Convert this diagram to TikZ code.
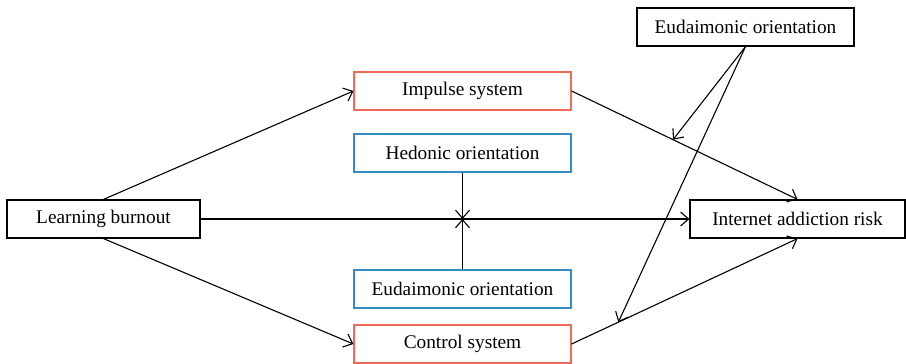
\documentclass[tikz,border=0pt]{standalone}
\usepackage{fontspec}
\setmainfont{Liberation Serif}
\usetikzlibrary{arrows.meta}
\definecolor{redb}{RGB}{240,106,90}
\definecolor{blueb}{RGB}{52,140,192}
\begin{document}
\begin{tikzpicture}[x=1pt,y=-1pt,
  box/.style={draw=black,line width=1.2pt,minimum width=217pt,minimum height=38pt,inner sep=0pt,font=\fontsize{19.3}{23}\selectfont},
  redbox/.style={box,draw=redb},
  bluebox/.style={box,draw=blueb},
  arr/.style={line width=1.1pt,-{Straight Barb[length=8pt,width=14pt,line width=1.1pt]}}]
\useasboundingbox (0,0) rectangle (906,364);
\node[box,minimum width=193pt] (lb) at (103.5,219) {Learning burnout};
\node[redbox] (imp) at (462.5,91) {Impulse system};
\node[bluebox] (hed) at (462.5,153) {Hedonic orientation};
\node[bluebox] (eul) at (462.5,289) {Eudaimonic orientation};
\node[redbox] (ctl) at (462.5,344) {Control system};
\node[box] (eut) at (745.5,27) {Eudaimonic orientation};
\node[box,minimum width=215pt] (iar) at (797.5,219) {Internet addiction risk};
\coordinate (mid) at (462.5,219);
\path (imp.east) -- (iar.north) coordinate[pos=0.449] (m1);
\path (ctl.east) -- (iar.south) coordinate[pos=0.207] (m2);
\draw[arr] (lb.north) -- (imp.west);
\draw[arr] (lb.south) -- (ctl.west);
\draw[arr] (lb.east) -- (iar.west);
\draw[arr] (imp.east) -- (iar.north);
\draw[arr] (ctl.east) -- (iar.south);
\draw[arr] (hed.south) -- (mid);
\draw[arr] (eul.north) -- (mid);
\draw[arr] (eut.south) -- (m1);
\draw[arr] (eut.south) -- (m2);
\end{tikzpicture}
\end{document}
